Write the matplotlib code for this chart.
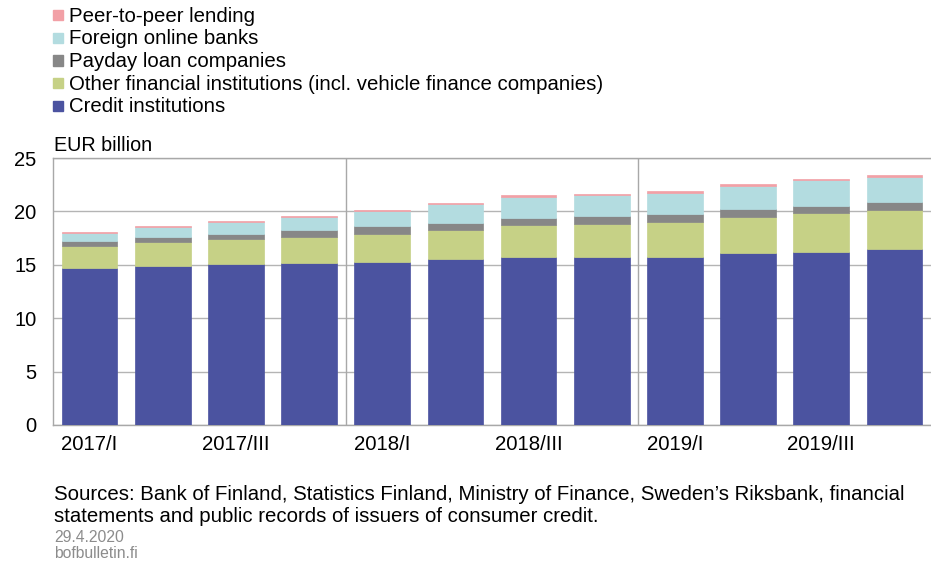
import matplotlib
matplotlib.use("Agg")
import matplotlib.pyplot as plt
from matplotlib.patches import Rectangle
import numpy as np

plt.rcParams['font.family'] = ['Liberation Sans', 'DejaVu Sans']

quarters = ['2017/I', '2017/II', '2017/III', '2017/IV',
            '2018/I', '2018/II', '2018/III', '2018/IV',
            '2019/I', '2019/II', '2019/III', '2019/IV']

# EUR billion
credit_inst = [14.70, 14.88, 15.10, 15.19, 15.22, 15.56, 15.72, 15.75, 15.72, 16.09, 16.22, 16.44]
other_fin = [2.10, 2.25, 2.34, 2.44, 2.69, 2.66, 2.97, 3.09, 3.28, 3.41, 3.62, 3.72]
payday = [0.40, 0.43, 0.47, 0.65, 0.72, 0.72, 0.72, 0.72, 0.72, 0.75, 0.69, 0.71]
foreign_online = [0.78, 0.94, 1.06, 1.19, 1.40, 1.72, 1.93, 1.94, 2.00, 2.16, 2.37, 2.35]
p2p = [0.12, 0.13, 0.12, 0.12, 0.13, 0.15, 0.16, 0.16, 0.19, 0.18, 0.13, 0.15]

series = [credit_inst, other_fin, payday, foreign_online, p2p]
labels = ['Credit institutions',
          'Other financial institutions (incl. vehicle finance companies)',
          'Payday loan companies',
          'Foreign online banks',
          'Peer-to-peer lending']
colors = ['#4b53a0', '#c6d186', '#878787', '#b3dce0', '#f2a0a6']

W, H = 931, 562
fig = plt.figure(figsize=(W / 100, H / 100), dpi=100)
ax = fig.add_axes([53 / W, 1 - 425 / H, (W - 53) / W, (425 - 158) / H])

x = np.arange(len(quarters))
bottom = np.zeros(len(quarters))
for vals, col in zip(series, colors):
    ax.bar(x, vals, width=0.76, bottom=bottom, color=col, zorder=3,
           edgecolor=col, linewidth=0.5)
    bottom += np.array(vals)

ax.set_xlim(-0.5, 11.5)
ax.set_ylim(0, 25)
ax.set_yticks([0, 5, 10, 15, 20, 25])
ax.yaxis.grid(True, color='#b4b4b4', linewidth=1.0, zorder=0)
ax.set_axisbelow(True)
for xs in [3.5, 7.5]:
    ax.axvline(xs, color='#a8a8a8', linewidth=1.0, zorder=1)

ax.set_xticks(x[::2])
ax.set_xticklabels(quarters[::2], fontsize=14.7)
ax.tick_params(axis='x', length=0, pad=7)
ax.tick_params(axis='y', length=0, pad=12, labelsize=14.5)
ax.spines['right'].set_visible(False)
for s in ['left', 'top', 'bottom']:
    ax.spines[s].set_color('#a8a8a8')
    ax.spines[s].set_linewidth(1.0)

fig.text(54 / W, 1 - 150.5 / H, 'EUR billion', fontsize=14.2, va='baseline', ha='left')

# legend, drawn top down
rows_y = [15, 37.7, 60.5, 83.2, 106]
for i, (lab, col) in enumerate(zip(labels[::-1], colors[::-1])):
    yc = rows_y[i]
    fig.add_artist(Rectangle((53 / W, 1 - (yc + 5) / H), 10 / W, 10 / H,
                             transform=fig.transFigure, color=col))
    fig.text(69 / W, 1 - (yc + 6.5) / H, lab, fontsize=14.7, va='baseline', ha='left')

fig.text(54 / W, 1 - 499.5 / H,
         "Sources: Bank of Finland, Statistics Finland, Ministry of Finance, Sweden\u2019s Riksbank, financial",
         fontsize=14.7, va='baseline', ha='left')
fig.text(54 / W, 1 - 522.5 / H,
         "statements and public records of issuers of consumer credit.",
         fontsize=14.7, va='baseline', ha='left')
fig.text(54 / W, 1 - 542 / H, '29.4.2020', fontsize=11.3, color='#8c8c8c', va='baseline', ha='left')
fig.text(54 / W, 1 - 558 / H, 'bofbulletin.fi', fontsize=11.3, color='#8c8c8c', va='baseline', ha='left')

fig.savefig('out.png', dpi=100)
